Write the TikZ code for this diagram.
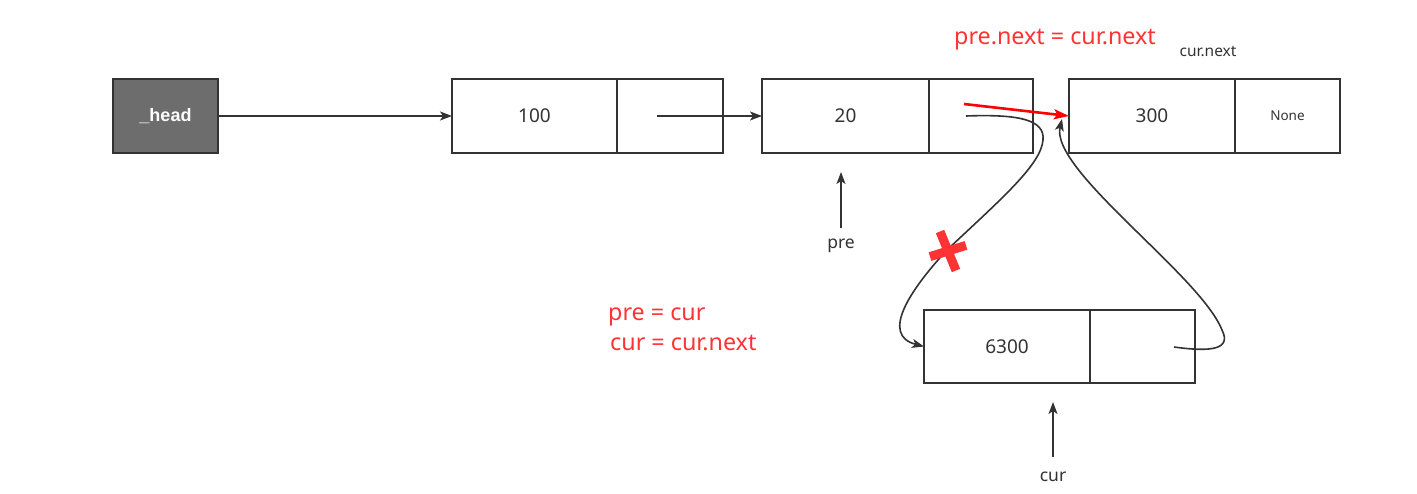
\documentclass[tikz,border=0pt]{standalone}
\usepackage{fontspec}
\setmainfont{Noto Sans}
\newfontfamily\headfont{Liberation Sans}
\usetikzlibrary{arrows.meta}
\definecolor{linec}{HTML}{333333}
\definecolor{headfill}{HTML}{6D6D6D}
\definecolor{redtxt}{HTML}{FF3333}
\definecolor{redarr}{HTML}{FF0000}
\tikzset{
  cell/.style={draw=linec, line width=1.8pt, inner sep=0pt, outer sep=0pt, anchor=north west,
    minimum height=74pt, text=linec, font=\fontsize{19}{22}\selectfont},
  headbox/.style={cell, fill=headfill, text=white, font=\headfont\bfseries\fontsize{18}{21}\selectfont},
  link/.style={draw=linec, line width=1.6pt, -{Stealth[length=12pt,width=9pt,inset=3pt]}},
  redlink/.style={draw=redarr, line width=2.6pt, -{Stealth[length=15pt,width=10pt,inset=3pt]}},
  lbl/.style={text=linec, inner sep=0pt, font=\fontsize{17.5}{20}\selectfont},
  redlbl/.style={text=redtxt, inner sep=0pt, font=\fontsize{23.3}{27}\selectfont},
  crossbar/.style={draw=redtxt, line width=9pt},
}
\begin{document}
\begin{tikzpicture}[x=1pt,y=-1pt]
\useasboundingbox[fill=white] (0,0) rectangle (1417,494);
% nodes
\node[headbox, minimum width=105pt] (head) at (113,79) {\_head};
\node[cell, minimum width=165pt] (n100d) at (452,79) {100};
\node[cell, minimum width=106pt] (n100p) at (617,79) {};
\node[cell, minimum width=167pt] (n20d) at (762,79) {20};
\node[cell, minimum width=104pt] (n20p) at (929,79) {};
\node[cell, minimum width=166pt] (n300d) at (1069,79) {300};
\node[cell, minimum width=105pt, font=\fontsize{13.5}{16}\selectfont] (n300p) at (1235,79) {None};
\node[cell, minimum width=166pt, minimum height=73pt] (n6300d) at (924,310) {6300};
\node[cell, minimum width=105pt, minimum height=73pt] (n6300p) at (1090,310) {};
% labels
\node[redlbl] (lblprenext) at (1055,40) {pre.next = cur.next};
\node[lbl, font=\fontsize{15.5}{19}\selectfont] (lblcurnext) at (1208,52) {cur.next};
\node[lbl] (lblpre) at (841,246) {pre};
\node[lbl] (lblcur) at (1053,477) {cur};
\node[redlbl, anchor=west] (lblassign1) at (608,317) {pre = cur};
\node[redlbl, anchor=west] (lblassign2) at (610,343) {cur = cur.next};
% coordinates
\coordinate (p100) at (657,116);
\coordinate (p20) at (966,116);
\coordinate (p20r) at (964,104);
\coordinate (p6300) at (1174,347);
\coordinate (c300in) at (1062,119);
\coordinate (prebase) at (841,228);
\coordinate (pretip) at (841,172);
\coordinate (curbase) at (1053,457);
\coordinate (curtip) at (1053,402);
% connectors
\draw[link] (head.east) -- (n100d.west);
\draw[link] (p100) -- (n20d.west);
\draw[link] (p20) .. controls (1020,114) and (1045,120) .. (1043,140)
  .. controls (1041,165) and (1000,200) .. (947,250)
  .. controls (910,290) and (880,335) .. (n6300d.west);
\draw[link] (p6300) .. controls (1210,352) and (1232,350) .. (1222,330)
  .. controls (1200,275) and (1050,170) .. (c300in);
\draw[redlink] (p20r) -- (n300d.west);
\draw[link] (prebase) -- (pretip);
\draw[link] (curbase) -- (curtip);
% cross
\draw[crossbar] (940,231.5) -- (956,270.5);
\draw[crossbar] (930,256.6) -- (966,245.4);
\end{tikzpicture}
\end{document}
